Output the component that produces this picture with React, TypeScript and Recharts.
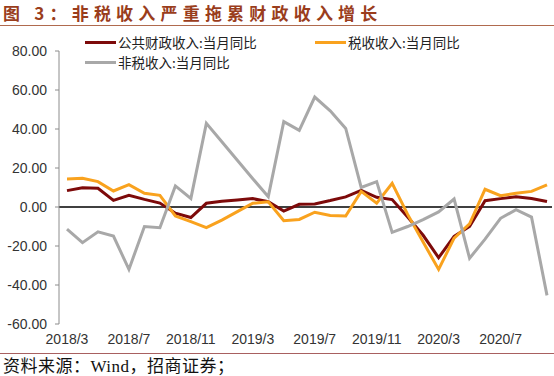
import React from 'react'
import { LineChart, Line, XAxis, YAxis, ReferenceLine } from 'recharts'

const months = [
  '2018/3', '2018/4', '2018/5', '2018/6', '2018/7', '2018/8', '2018/9', '2018/10', '2018/11', '2018/12',
  '2019/1', '2019/2', '2019/3', '2019/4', '2019/5', '2019/6', '2019/7', '2019/8', '2019/9', '2019/10', '2019/11', '2019/12',
  '2020/1', '2020/2', '2020/3', '2020/4', '2020/5', '2020/6', '2020/7', '2020/8', '2020/9', '2020/10',
]

// 公共财政收入:当月同比
const publicRev = [
  8.4, 9.9, 9.6, 3.4, 6.0, 3.9, 2.0, -3.2, -5.4, 1.9,
  2.9, 3.6, 4.3, 2.7, -2.1, 1.4, 1.6, 3.3, 5.2, 8.5, 5.0, 3.8,
  -5.1, -14.5, -26.0, -15.0, -10.0, 3.2, 4.3, 5.2, 4.4, 2.8,
]

// 税收收入:当月同比
const taxRev = [
  14.4, 14.7, 13.0, 8.2, 11.5, 7.0, 6.0, -4.6, -7.5, -10.6,
  -6.7, -2.4, 1.9, 2.7, -7.0, -6.4, -2.7, -4.3, -4.6, 8.0, 2.0, 12.1,
  -3.8, -18.0, -32.0, -16.0, -8.7, 9.1, 5.8, 7.0, 8.0, 11.4,
]

// 非税收入:当月同比
const nonTaxRev = [
  -11.3, -18.3, -12.7, -14.9, -32.0, -10.0, -10.6, 10.8, 4.4, 42.9,
  33.5, 24.0, 14.5, 5.3, 43.8, 39.3, 56.4, 49.3, 40.3, 10.0, 13.0, -13.0,
  -10.0, -6.5, -2.5, 4.1, -26.3, -16.5, -5.8, -1.4, -5.2, -45.3,
]

const yTicks = [-60, -40, -20, 0, 20, 40, 60, 80]

const data = months.map((m, i) => ({
  month: m,
  pub: publicRev[i],
  tax: taxRev[i],
  nontax: nonTaxRev[i],
}))

const RED = '#7d0a0a'
const ORANGE = '#f9a21e'
const GRAY = '#a8a8a8'

const cjk = '"Noto Sans CJK SC", sans-serif'

function LegendItem({ color, label, x, y }: { color: string; label: string; x: number; y: number }) {
  return (
    <div style={{ position: 'absolute', left: x, top: y, display: 'flex', alignItems: 'center', whiteSpace: 'nowrap' }}>
      <span style={{ display: 'inline-block', width: 31, height: 3, background: color, marginRight: 2 }} />
      <span style={{ fontFamily: cjk, fontSize: 13.5, color: '#222', lineHeight: '16px' }}>{label}</span>
    </div>
  )
}

export default function App() {
  return (
    <div style={{ position: 'absolute', left: 0, top: 0, width: 554, height: 376, background: '#fff', overflow: 'hidden' }}>
      <div
        style={{
          position: 'absolute', left: 3, top: 3, fontFamily: cjk, fontWeight: 700,
          fontSize: 17, letterSpacing: 5.2, color: '#9a3d1c', lineHeight: '20px', whiteSpace: 'nowrap',
        }}
      >
        图 3：非税收入严重拖累财政收入增长
      </div>
      <div style={{ position: 'absolute', left: 0, top: 25, width: 554, height: 1, background: '#b06a4e' }} />

      <LineChart
        width={554}
        height={376}
        data={data}
        margin={{ top: 51, right: 2, bottom: 22, left: 4 }}
        style={{ position: 'absolute', left: 0, top: 0 }}
      >
        <XAxis
          dataKey="month"
          interval={3}
          axisLine={false}
          tickLine={false}
          tickMargin={4}
          padding={{ left: 8, right: 5 }}
          tick={{ fontSize: 14, fill: '#333', fontFamily: '"Liberation Sans", Arial, sans-serif' }}
          height={30}
        />
        <YAxis
          domain={[-60, 80]}
          ticks={yTicks}
          interval={0}
          width={55}
          tickSize={4}
          tickMargin={8}
          tickFormatter={(v: number) => v.toFixed(2)}
          stroke="#8c8c8c"
          tick={{ fontSize: 14, fill: '#333', fontFamily: '"Liberation Sans", Arial, sans-serif' }}
        />
        <ReferenceLine y={0} stroke="#000" strokeWidth={1.3} />
        <Line type="linear" dataKey="pub" stroke={RED} strokeWidth={3} dot={false} isAnimationActive={false} />
        <Line type="linear" dataKey="tax" stroke={ORANGE} strokeWidth={3} dot={false} isAnimationActive={false} />
        <Line type="linear" dataKey="nontax" stroke={GRAY} strokeWidth={3} dot={false} isAnimationActive={false} />
      </LineChart>

      <LegendItem color={RED} label="公共财政收入:当月同比" x={85} y={34} />
      <LegendItem color={ORANGE} label="税收收入:当月同比" x={315} y={34} />
      <LegendItem color={GRAY} label="非税收入:当月同比" x={85} y={54} />

      <div style={{ position: 'absolute', left: 0, top: 353, width: 554, height: 1, background: '#a86060' }} />
      <div
        style={{
          position: 'absolute', left: 3, top: 357, fontFamily: '"Liberation Serif", "Noto Sans CJK SC", serif',
          fontSize: 17, color: '#111', lineHeight: '20px', whiteSpace: 'nowrap', letterSpacing: 0.5,
        }}
      >
        资料来源：Wind，招商证券；
      </div>
    </div>
  )
}
